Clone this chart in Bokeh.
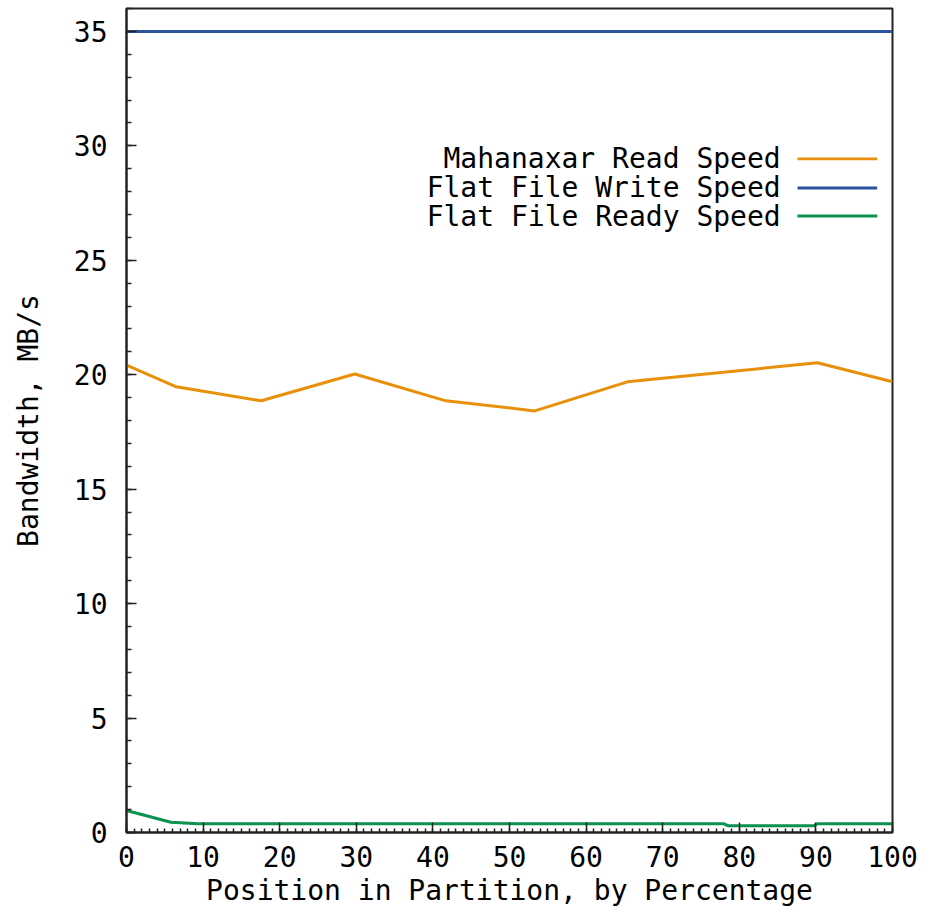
from bokeh.plotting import figure
from bokeh.models import SingleIntervalTicker, Range1d, Label, BoxAnnotation
from bokeh.embed import file_html
from bokeh.resources import INLINE

# ---- data ----
write_x = [0, 100]
write_y = [35, 35]
read_x = [0, 6.5, 17.6, 29.8, 41.7, 53.3, 65.4, 90.2, 100]
read_y = [20.42, 19.47, 18.86, 20.03, 18.86, 18.42, 19.69, 20.52, 19.69]
ready_x = [0, 5.8, 9.3, 78.0, 78.5, 89.8, 90.2, 100]
ready_y = [0.96, 0.45, 0.38, 0.38, 0.30, 0.30, 0.38, 0.38]

series_names = ["Mahanaxar Read Speed", "Flat File Write Speed", "Flat File Ready Speed"]
series_colors = ["#e8900a", "#2c539e", "#0c9150"]

FONT = "DejaVu Sans Mono"
FS = "28px"

p = figure(width=934, height=916, x_range=Range1d(0, 100), y_range=Range1d(0, 36),
           output_backend="svg", toolbar_location=None,
           min_border_left=126, min_border_right=42, min_border_top=8, min_border_bottom=84,
           background_fill_color="white", border_fill_color="white")

p.line(read_x, read_y, line_color=series_colors[0], line_width=3)
p.line(write_x, write_y, line_color=series_colors[1], line_width=3)
p.line(ready_x, ready_y, line_color=series_colors[2], line_width=3)

p.xgrid.visible = False
p.ygrid.visible = False
p.outline_line_color = "#222222"
p.outline_line_width = 2
p.outline_line_alpha = 1

p.xaxis.ticker = SingleIntervalTicker(interval=10, num_minor_ticks=10)
p.yaxis.ticker = SingleIntervalTicker(interval=5, num_minor_ticks=5)

for ax in (p.xaxis, p.yaxis):
    ax.major_tick_out = 0
    ax.minor_tick_out = 0
    ax.major_tick_in = 10
    ax.axis_line_width = 2
    ax.axis_line_color = "#222222"
    ax.major_tick_line_color = "#222222"
    ax.minor_tick_line_color = "#222222"
    ax.major_tick_line_width = 1.5
    ax.minor_tick_line_width = 1.5
    ax.major_label_text_font = FONT
    ax.major_label_text_font_size = FS
    ax.major_label_text_color = "black"
    ax.axis_label_text_font = FONT
    ax.axis_label_text_font_size = FS
    ax.axis_label_text_font_style = "normal"
    ax.axis_label_text_color = "black"

p.xaxis.minor_tick_in = 4
p.yaxis.minor_tick_in = 5
p.xaxis.axis_label = "Position in Partition, by Percentage"
p.yaxis.axis_label = "Bandwidth, MB/s"
p.xaxis.major_label_standoff = 13
p.xaxis.axis_label_standoff = 4
p.yaxis.major_label_standoff = 19
p.yaxis.axis_label_standoff = 26

# ---- custom legend (text right-aligned, sample line to the right) ----
legend_text_x = 85.4
legend_line_x0, legend_line_x1 = 87.6, 98.0
legend_rows_y = [29.43, 28.16, 26.93]
for name, color, ly in zip(series_names, series_colors, legend_rows_y):
    p.add_layout(Label(x=legend_text_x, y=ly, text=name, text_align="right",
                       text_baseline="middle", text_font=FONT, text_font_size=FS,
                       text_color="black"))
    p.add_layout(BoxAnnotation(left=legend_line_x0, right=legend_line_x1,
                               bottom=ly - 0.065, top=ly + 0.065,
                               fill_color=color, fill_alpha=1, line_alpha=0))

open("out.html", "w").write(file_html(p, INLINE))
